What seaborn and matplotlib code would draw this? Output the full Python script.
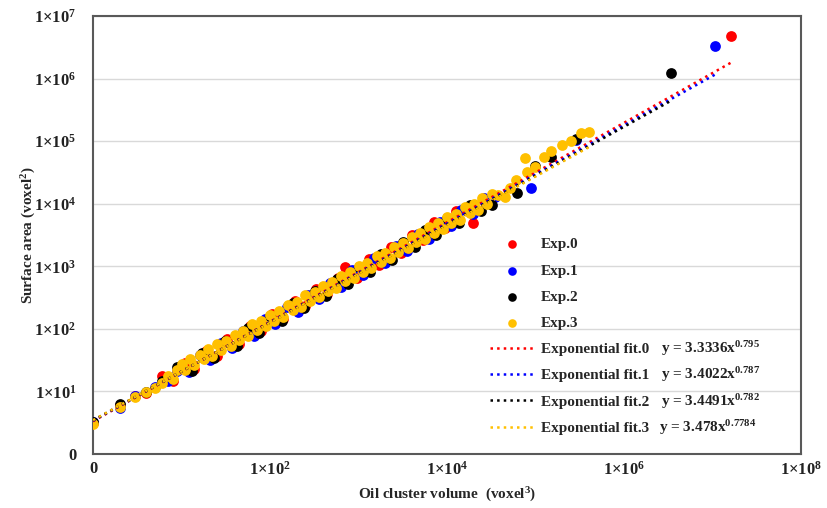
import matplotlib
matplotlib.use("Agg")
import matplotlib.pyplot as plt
import numpy as np
import pandas as pd
import seaborn as sns
from matplotlib.ticker import FixedLocator, FuncFormatter, NullLocator

# values (log-log axes)
exp0_vol = [1, 2, 3, 4, 6, 8, 11, 14, 19, 25, 33, 45, 60, 80, 105, 140, 190, 250, 330, 440,
            580, 700, 950, 1300, 1700, 2300, 3000, 4000, 5400, 7200, 9500, 12500, 19600, 26000,
            16000000]
exp0_area = [3.1, 6.0, 8.4, 9.6, 17.4, 14.8, 28.7, 23.1, 45, 36.5, 70, 58.3, 112, 92, 175, 143,
             281, 228, 435, 357, 655, 970, 659, 1295, 1046, 2040, 1643, 3170, 2624, 5060, 4108,
             7525, 4900, 11850, 4800000]

exp1_vol = [1, 2, 3, 5, 7, 9, 12, 16, 21, 28, 37, 50, 66, 88, 115, 155, 205, 270, 360, 480, 640,
            850, 1130, 1500, 2000, 2650, 3500, 4700, 6200, 8300, 11000, 14500, 19500, 26000, 35000,
            88000, 290000, 10600000]
exp1_area = [3.2, 5.5, 8.6, 11.6, 14.5, 21, 20.2, 37.8, 31.5, 58.6, 49.1, 92, 77.8, 144, 120, 225,
             189, 349, 295, 549, 463, 861, 726, 1345, 1136, 2100, 1764, 3300, 2765, 5160, 4342,
             8020, 6815, 12170, 13000, 18000, 105000, 3300000]

exp2_vol = [1, 2, 4, 6, 9, 13, 17, 23, 31, 42, 56, 75, 100, 135, 180, 240, 320, 430, 570, 760,
            1010, 1350, 1800, 2400, 3200, 4300, 5700, 7600, 10100, 13500, 18000, 24000, 32000,
            62000, 100000, 150000, 290000, 3400000]
exp2_area = [3.3, 6.2, 9.7, 14.8, 24.5, 21.6, 40.5, 33.7, 64.8, 54, 103, 85.3, 161, 135, 256, 212,
             402, 333, 631, 521, 987, 815, 1550, 1277, 2430, 2015, 3820, 3148, 5980, 4936, 9400,
             7744, 9500, 15000, 40000, 55000, 110000, 1230000]

exp3_vol = [1, 2, 3, 4, 5, 6, 7, 8, 9,
            10, 12.5, 16, 20, 25, 32, 40, 50, 63, 80, 100, 125, 160, 200, 250, 320, 400, 500,
            630, 800, 1000, 1250, 1600, 2000, 2500, 3200, 4000, 5000, 6300, 8000, 10000, 12500,
            16000, 20000, 25000, 32000,
            11, 14, 18, 22, 28, 36, 45, 56, 71, 90, 112, 140, 180, 225, 280, 360, 450, 560, 710,
            900, 1120, 1400, 1800, 2250, 2800, 3600, 4500, 5600, 7100, 9000, 11200, 14000, 18000,
            22500, 28000,
            38000, 45000, 52000, 60000, 76000, 80000, 100000, 126000, 150000, 200000, 250000,
            330000, 400000]
exp3_area = [3.0, 5.6, 8.1, 9.8, 11.5, 13.6, 17.5, 16, 22,
             27, 33, 38, 47, 57, 65, 81, 93, 118, 134, 168, 190, 240, 272, 345, 395, 492, 560,
             700, 805, 1010, 1140, 1450, 1640, 2060, 2370, 2960, 3350, 4230, 4830, 6050, 6850,
             8700, 9850, 12300, 14200,
             22, 26, 32.5, 37, 46, 54, 66.5, 76, 95, 110, 136, 155, 197, 224, 278, 322, 402, 455,
             573, 660, 815, 930, 1180, 1345, 1665, 1940, 2410, 2740, 3430, 3960, 4890, 5590, 7080,
             8080, 9980,
             14000, 13000, 18000, 24000, 54000, 32000, 38000, 55000, 70000, 87000, 100000,
             135000, 140000]

fit_coef = [3.3336, 3.4022, 3.4491, 3.478]
fit_exp = [0.795, 0.787, 0.782, 0.7784]
fit_exp_txt = ["0.795", "0.787", "0.782", "0.7784"]
fit_xmax = [1.6e7, 1.06e7, 3.4e6, 4.0e5]

series_names = ["Exp.0", "Exp.1", "Exp.2", "Exp.3"]
colors = ["#ff0000", "#0000ff", "#000000", "#ffc000"]

vols = [exp0_vol, exp1_vol, exp2_vol, exp3_vol]
areas = [exp0_area, exp1_area, exp2_area, exp3_area]

sns.set_theme(style="white")
plt.rcParams["font.family"] = ["Liberation Serif", "DejaVu Serif"]
plt.rcParams["font.weight"] = "bold"
plt.rcParams["mathtext.fontset"] = "custom"
plt.rcParams["mathtext.rm"] = "Liberation Serif:bold"
plt.rcParams["mathtext.it"] = "Liberation Serif:bold"
plt.rcParams["mathtext.bf"] = "Liberation Serif:bold"

fig = plt.figure(figsize=(8.27, 5.08), dpi=100)
ax = fig.add_axes([0.1125, 0.1063, 0.856, 0.8622])
ax.set_xscale("log")
ax.set_yscale("log")

for name, c, v, a in zip(series_names, colors, vols, areas):
    df = pd.DataFrame({"vol": v, "area": a})
    sns.scatterplot(data=df, x="vol", y="area", color=c, s=60, linewidth=0,
                    ax=ax, label=name, zorder=3)

for i, c in enumerate(colors):
    xs = np.array([1.0, fit_xmax[i]])
    df = pd.DataFrame({"vol": xs, "area": fit_coef[i] * xs ** fit_exp[i]})
    sns.lineplot(data=df, x="vol", y="area", color=c, linestyle=":", linewidth=1.8,
                 ax=ax, label=f"Exponential fit.{i}", zorder=4)

ax.set_xlim(1, 1e8)
ax.set_ylim(1, 1e7)


def fmt(v, pos):
    if v <= 1.0001:
        return "0"
    return r"1×$10^{%d}$" % round(np.log10(v))


ax.xaxis.set_major_locator(FixedLocator([1, 1e2, 1e4, 1e6, 1e8]))
ax.yaxis.set_major_locator(FixedLocator([10.0 ** k for k in range(8)]))
ax.xaxis.set_minor_locator(NullLocator())
ax.yaxis.set_minor_locator(NullLocator())
ax.xaxis.set_major_formatter(FuncFormatter(fmt))
ax.yaxis.set_major_formatter(FuncFormatter(fmt))
ax.tick_params(axis="both", length=0, labelsize=12, colors="#222222")
ax.tick_params(axis="y", pad=12)
ax.tick_params(axis="x", pad=5)

ax.yaxis.grid(True, color="#d9d9d9", linewidth=1.0)
ax.xaxis.grid(False)
for sp in ax.spines.values():
    sp.set_color("#595959")
    sp.set_linewidth(1.5)
    sp.set_visible(True)

ax.set_xlabel("Oil cluster volume  (voxel$^3$)", fontsize=11, fontweight="bold", labelpad=5)
ax.set_ylabel("Surface area (voxel$^2$)", fontsize=11, fontweight="bold", labelpad=-3)

leg = ax.legend(loc="upper left", bbox_to_anchor=(0.561, 0.494), frameon=False, fontsize=11,
                handlelength=2.8, handletextpad=0.5, labelspacing=0.82, borderpad=0,
                borderaxespad=0, markerscale=0.8)

# equations sit beside the fit rows of the legend, on the same baseline
fig.canvas.draw()
W, H = fig.get_size_inches() * fig.dpi
eq_x = [661, 661, 661, 659]
for i, t in enumerate(leg.get_texts()[4:]):
    bx, by = t.get_transform().transform(t.get_position())
    fig.text(eq_x[i] / W, by / H, f"y = {fit_coef[i]}x$^{{{fit_exp_txt[i]}}}$",
             ha="left", va="baseline", fontsize=11, fontweight="bold", color="#222222")

fig.savefig("out.png", dpi=100)
